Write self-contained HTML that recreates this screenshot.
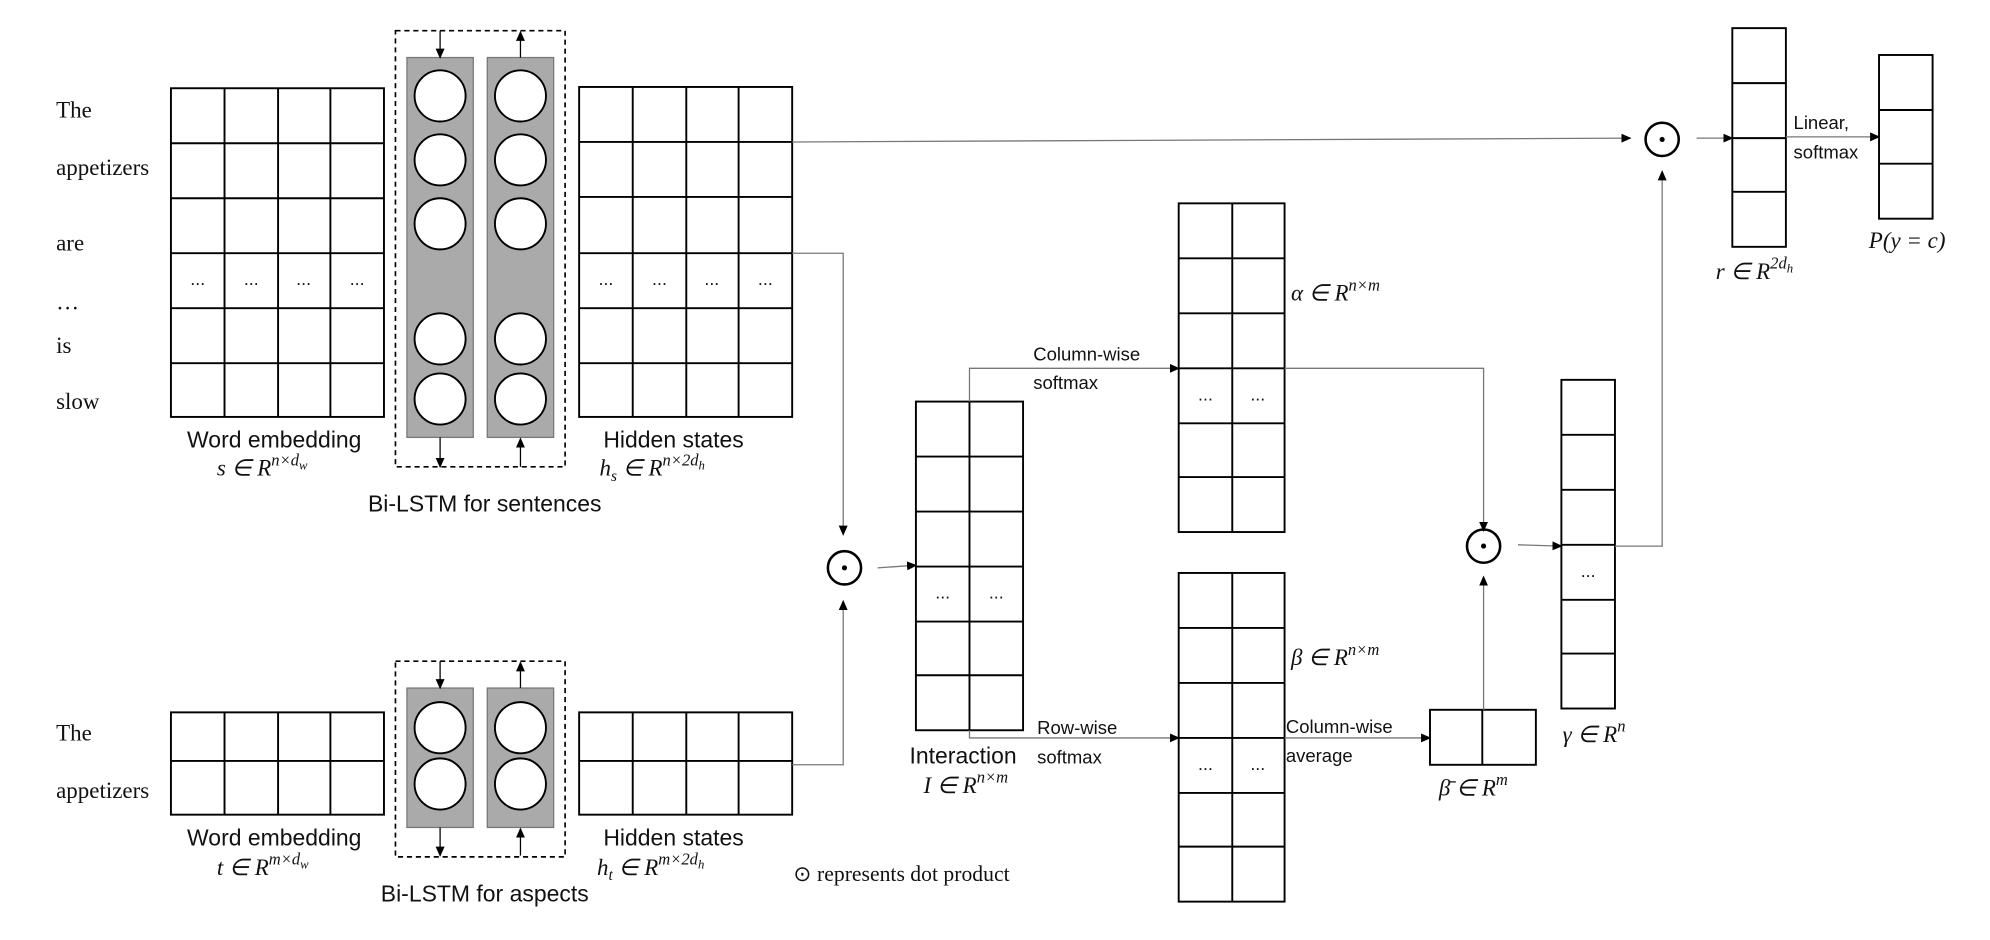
<!DOCTYPE html>
<html><head><meta charset="utf-8"><style>
html,body{margin:0;padding:0;background:#fff;width:1990px;height:940px;overflow:hidden}
svg text{font-family:"Liberation Sans",sans-serif;fill:#111}
.sf{font-family:"Liberation Serif",serif !important}
.m{font-family:"Liberation Serif",serif !important;font-style:italic}
</style></head><body>
<svg width="1990" height="940" viewBox="0 0 1560 735" preserveAspectRatio="none" xmlns="http://www.w3.org/2000/svg">
<defs>
<marker id="a" markerWidth="8" markerHeight="8" refX="7" refY="4" orient="auto" markerUnits="userSpaceOnUse"><path d="M0,0.5 L8,4 L0,7.5z" fill="#000"/></marker>
</defs>
<g id="grids" fill="none" stroke="#000" stroke-width="1.5">
<!-- word embedding s -->
<rect x="134" y="69" width="167" height="257"/>
<path d="M176,69V326M218,69V326M259,69V326M134,112H301M134,155H301M134,198H301M134,241H301M134,284H301"/>
<!-- hidden hs -->
<rect x="454" y="68" width="167" height="258"/>
<path d="M496,68V326M538,68V326M579,68V326M454,111H621M454,154H621M454,198H621M454,241H621M454,284H621"/>
<!-- bottom t -->
<rect x="134" y="557" width="167" height="80"/>
<path d="M176,557V637M218,557V637M259,557V637M134,595H301"/>
<rect x="454" y="557" width="167" height="80"/>
<path d="M496,557V637M538,557V637M579,557V637M454,595H621"/>
<!-- interaction -->
<rect x="718" y="314" width="84" height="257"/>
<path d="M760,314V571M718,357H802M718,400H802M718,443H802M718,486H802M718,528H802"/>
<!-- alpha -->
<rect x="924" y="159" width="83" height="257"/>
<path d="M966,159V416M924,202H1007M924,245H1007M924,288H1007M924,331H1007M924,373H1007"/>
<!-- beta -->
<rect x="924" y="448" width="83" height="257"/>
<path d="M966,448V705M924,491H1007M924,534H1007M924,577H1007M924,620H1007M924,662H1007"/>
<!-- beta bar -->
<rect x="1121" y="555" width="83" height="43"/>
<path d="M1162,555V598"/>
<!-- gamma -->
<rect x="1224" y="297" width="42" height="257"/>
<path d="M1224,340H1266M1224,383H1266M1224,426H1266M1224,469H1266M1224,511H1266"/>
<!-- r -->
<rect x="1358" y="22" width="42" height="171"/>
<path d="M1358,65H1400M1358,108H1400M1358,150H1400"/>
<!-- P -->
<rect x="1473" y="43" width="42" height="128"/>
<path d="M1473,86H1515M1473,128H1515"/>
</g>
<!-- Bi-LSTM boxes -->
<g>
<rect x="310" y="24" width="133" height="341" fill="none" stroke="#000" stroke-width="1.3" stroke-dasharray="4,3"/>
<rect x="319" y="45" width="52" height="297" fill="#aaa" stroke="#777"/>
<rect x="382" y="45" width="52" height="297" fill="#aaa" stroke="#777"/>
<g fill="#fff" stroke="#000" stroke-width="1.5">
<circle cx="345" cy="75" r="20"/><circle cx="345" cy="125" r="20"/><circle cx="345" cy="175" r="20"/><circle cx="345" cy="265" r="20"/><circle cx="345" cy="312" r="20"/>
<circle cx="408" cy="75" r="20"/><circle cx="408" cy="125" r="20"/><circle cx="408" cy="175" r="20"/><circle cx="408" cy="265" r="20"/><circle cx="408" cy="312" r="20"/>
</g>
<rect x="310" y="517" width="133" height="153" fill="none" stroke="#000" stroke-width="1.3" stroke-dasharray="4,3"/>
<rect x="319" y="538" width="52" height="109" fill="#aaa" stroke="#777"/>
<rect x="382" y="538" width="52" height="109" fill="#aaa" stroke="#777"/>
<g fill="#fff" stroke="#000" stroke-width="1.5">
<circle cx="345" cy="569" r="20"/><circle cx="345" cy="613" r="20"/><circle cx="408" cy="569" r="20"/><circle cx="408" cy="613" r="20"/>
</g>
<g stroke="#000" stroke-width="1" marker-end="url(#a)">
<path d="M345,24V45"/><path d="M345,342V365"/><path d="M408,45V25"/><path d="M408,365V343"/>
<path d="M345,517V538"/><path d="M345,647V669"/><path d="M408,538V518"/><path d="M408,669V648"/>
</g>
</g>
<!-- connectors -->
<g fill="none" stroke="#777" stroke-width="1" marker-end="url(#a)">
<path d="M621,111L1278,108"/>
<path d="M621,198H661V418"/>
<path d="M621,598H661V470"/>
<path d="M688,444L718,442"/>
<path d="M760,314V288H924"/>
<path d="M760,571V577H924"/>
<path d="M1007,288H1163V415"/>
<path d="M1007,577H1121"/>
<path d="M1163,555V451"/>
<path d="M1190,426L1224,427"/>
<path d="M1266,427H1303V134"/>
<path d="M1330,108H1358"/>
<path d="M1400,107H1473"/>
</g>
<!-- dot products -->
<g fill="none" stroke="#000" stroke-width="2"><circle cx="662" cy="444" r="13"/><circle cx="1163" cy="427" r="13"/><circle cx="1303" cy="109" r="13"/></g>
<g fill="#000"><circle cx="662" cy="444" r="2"/><circle cx="1163" cy="427" r="2"/><circle cx="1303" cy="109" r="2"/></g>
<!-- dots in cells -->
<g font-size="14" text-anchor="middle">
<text x="155" y="223">...</text><text x="197" y="223">...</text><text x="238" y="223">...</text><text x="280" y="223">...</text>
<text x="475" y="223">...</text><text x="517" y="223">...</text><text x="558" y="223">...</text><text x="600" y="223">...</text>
<text x="739" y="468">...</text><text x="781" y="468">...</text>
<text x="945" y="313">...</text><text x="986" y="313">...</text>
<text x="945" y="602">...</text><text x="986" y="602">...</text>
<text x="1245" y="451">...</text>
</g>
<!-- left words -->
<g class="sf" font-size="18">
<text class="sf" x="44" y="92">The</text><text class="sf" x="44" y="137">appetizers</text><text class="sf" x="44" y="196">are</text><text class="sf" x="44" y="242">…</text><text class="sf" x="44" y="276">is</text><text class="sf" x="44" y="320">slow</text>
<text class="sf" x="44" y="579">The</text><text class="sf" x="44" y="624">appetizers</text>
</g>
<g font-size="18" text-anchor="middle">
<text x="215" y="350">Word embedding</text>
<text x="380" y="400">Bi-LSTM for sentences</text>
<text x="528" y="350">Hidden states</text>
<text x="215" y="661">Word embedding</text>
<text x="380" y="705">Bi-LSTM for aspects</text>
<text x="528" y="661">Hidden states</text>
<text x="755" y="597">Interaction</text>
</g>
<g font-size="18" class="m">
<text class="m" x="170" y="372">s ∈ R<tspan font-size="13" dy="-8">n×d<tspan font-size="10" dy="3">w</tspan></tspan></text>
<text class="m" x="470" y="372">h<tspan font-size="12" dy="4">s</tspan><tspan dy="-4"> ∈ R</tspan><tspan font-size="13" dy="-8">n×2d<tspan font-size="10" dy="3">h</tspan></tspan></text>
<text class="m" x="170" y="684">t ∈ R<tspan font-size="13" dy="-8">m×d<tspan font-size="10" dy="3">w</tspan></tspan></text>
<text class="m" x="468" y="684">h<tspan font-size="12" dy="4">t</tspan><tspan dy="-4"> ∈ R</tspan><tspan font-size="13" dy="-8">m×2d<tspan font-size="10" dy="3">h</tspan></tspan></text>
<text class="m" x="724" y="620">I ∈ R<tspan font-size="13" dy="-8">n×m</tspan></text>
<text class="m" x="1012" y="235">α ∈ R<tspan font-size="13" dy="-8">n×m</tspan></text>
<text class="m" x="1012" y="520">β ∈ R<tspan font-size="13" dy="-8">n×m</tspan></text>
<text class="m" x="1128" y="622">β̄ ∈ R<tspan font-size="13" dy="-8">m</tspan></text>
<text class="m" x="1225" y="580">γ ∈ R<tspan font-size="13" dy="-8">n</tspan></text>
<text class="m" x="1345" y="218">r ∈ R<tspan font-size="13" dy="-8">2d<tspan font-size="10" dy="3">h</tspan></tspan></text>
<text class="m" x="1465" y="194">P(y = c)</text>
</g>
<text class="sf" x="622" y="689" font-size="17">⊙ represents dot product</text>
<g font-size="14.5">
<text x="810" y="282">Column-wise</text><text x="810" y="304">softmax</text>
<text x="813" y="574">Row-wise</text><text x="813" y="597">softmax</text>
<text x="1008" y="573">Column-wise</text><text x="1008" y="596">average</text>
<text x="1406" y="101">Linear,</text><text x="1406" y="124">softmax</text>
</g>
</svg>
</body></html>
